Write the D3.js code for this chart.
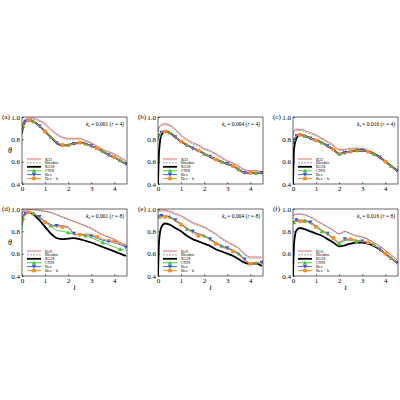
<!DOCTYPE html>
<html><head><meta charset="utf-8">
<script src="https://cdn.jsdelivr.net/npm/d3@7"></script>
<style>body{margin:0;background:#fff}text{font-family:"Liberation Serif",serif}</style>
</head><body><svg id="c" width="400" height="400"></svg>
<script>
var T = [0,0.05,0.15,0.3,0.5,0.75,1,1.25,1.5,1.75,2,2.25,2.5,2.75,3,3.25,3.5,3.75,4,4.25,4.5];
var xTicks = [0,1,2,3,4];
var yTicks = [0.4,0.6,0.8,1.0];

// panel (a) ks=0.001 r=4
var aLow  = [0.90,0.95,0.98,0.99,0.99,0.97,0.94,0.89,0.85,0.82,0.81,0.81,0.81,0.79,0.77,0.74,0.71,0.69,0.67,0.64,0.61];
var aBic  = [0.89,0.94,0.97,0.98,0.98,0.96,0.93,0.88,0.84,0.81,0.80,0.80,0.80,0.78,0.76,0.73,0.70,0.68,0.66,0.63,0.60];
var aR128 = [0.85,0.92,0.96,0.97,0.96,0.92,0.87,0.82,0.77,0.745,0.75,0.76,0.77,0.76,0.74,0.72,0.69,0.66,0.64,0.61,0.58];
var aCNN  = [0.86,0.92,0.96,0.97,0.96,0.92,0.87,0.82,0.775,0.75,0.75,0.76,0.77,0.76,0.745,0.72,0.695,0.665,0.64,0.61,0.585];
var aRes  = [0.85,0.92,0.96,0.97,0.96,0.92,0.87,0.82,0.77,0.745,0.75,0.76,0.77,0.76,0.74,0.72,0.69,0.66,0.64,0.61,0.58];
var aResH = [0.88,0.93,0.96,0.97,0.96,0.92,0.87,0.82,0.775,0.75,0.75,0.76,0.77,0.755,0.74,0.72,0.69,0.66,0.64,0.61,0.58];
// panel (b) ks=0.004 r=4
var bLow  = [0.88,0.91,0.93,0.94,0.93,0.89,0.84,0.80,0.77,0.75,0.72,0.70,0.67,0.64,0.61,0.59,0.56,0.53,0.52,0.52,0.51];
var bBic  = [0.87,0.90,0.92,0.93,0.92,0.88,0.83,0.79,0.76,0.74,0.71,0.69,0.66,0.63,0.60,0.58,0.55,0.52,0.51,0.51,0.50];
var bR128 = [0.40,0.70,0.84,0.87,0.86,0.82,0.78,0.75,0.72,0.70,0.67,0.645,0.62,0.60,0.58,0.56,0.53,0.50,0.50,0.50,0.50];
var bCNN  = [0.82,0.84,0.86,0.87,0.86,0.82,0.78,0.75,0.72,0.70,0.67,0.645,0.62,0.60,0.58,0.56,0.53,0.50,0.50,0.50,0.50];
var bRes  = [0.80,0.84,0.86,0.87,0.86,0.82,0.78,0.75,0.72,0.70,0.67,0.645,0.62,0.60,0.58,0.56,0.53,0.50,0.50,0.50,0.50];
var bResH = [0.83,0.85,0.86,0.87,0.86,0.82,0.78,0.75,0.72,0.70,0.67,0.645,0.62,0.60,0.58,0.56,0.53,0.50,0.50,0.50,0.50];
// panel (c) ks=0.016 r=4
var cLow  = [0.85,0.88,0.89,0.89,0.88,0.86,0.84,0.81,0.78,0.75,0.71,0.71,0.72,0.72,0.72,0.70,0.68,0.65,0.61,0.57,0.53];
var cBic  = [0.84,0.87,0.88,0.88,0.87,0.85,0.83,0.80,0.77,0.74,0.70,0.70,0.71,0.71,0.71,0.69,0.67,0.64,0.60,0.56,0.52];
var cR128 = [0.40,0.72,0.81,0.84,0.83,0.81,0.79,0.77,0.74,0.71,0.67,0.68,0.69,0.70,0.70,0.69,0.67,0.64,0.60,0.56,0.52];
var cCNN  = [0.76,0.80,0.83,0.84,0.83,0.81,0.79,0.77,0.74,0.71,0.67,0.68,0.69,0.70,0.70,0.69,0.67,0.64,0.60,0.56,0.52];
var cRes  = [0.75,0.80,0.83,0.84,0.83,0.81,0.79,0.77,0.74,0.71,0.67,0.68,0.69,0.70,0.70,0.69,0.67,0.64,0.60,0.56,0.52];
var cResH = [0.77,0.81,0.83,0.84,0.83,0.81,0.79,0.77,0.74,0.71,0.67,0.68,0.69,0.70,0.70,0.69,0.67,0.64,0.60,0.56,0.52];
// panel (d) ks=0.001 r=8
var dLow  = [0.96,0.98,0.99,1.00,1.00,0.99,0.98,0.97,0.95,0.93,0.91,0.89,0.87,0.85,0.83,0.80,0.77,0.75,0.73,0.70,0.68];
var dBic  = [0.95,0.97,0.98,0.99,0.99,0.985,0.975,0.965,0.945,0.925,0.905,0.885,0.865,0.845,0.82,0.79,0.765,0.745,0.72,0.695,0.675];
var dR128 = [0.86,0.93,0.96,0.97,0.95,0.90,0.84,0.78,0.74,0.73,0.735,0.74,0.73,0.715,0.70,0.68,0.66,0.64,0.62,0.60,0.58];
var dCNN  = [0.82,0.92,0.96,0.97,0.96,0.92,0.88,0.85,0.81,0.80,0.79,0.775,0.77,0.76,0.745,0.72,0.70,0.68,0.66,0.64,0.63];
var dRes  = [0.87,0.94,0.96,0.97,0.96,0.93,0.89,0.86,0.85,0.85,0.84,0.78,0.77,0.77,0.76,0.74,0.72,0.71,0.70,0.68,0.66];
var dResH = [0.87,0.93,0.96,0.97,0.96,0.92,0.88,0.85,0.84,0.84,0.83,0.77,0.77,0.775,0.77,0.75,0.73,0.72,0.71,0.69,0.67];
// panel (e) ks=0.004 r=8
var eLow  = [0.98,0.99,0.99,0.99,0.98,0.96,0.94,0.91,0.88,0.86,0.84,0.81,0.78,0.74,0.71,0.68,0.65,0.60,0.57,0.57,0.57];
var eBic  = [0.97,0.98,0.98,0.98,0.97,0.95,0.93,0.90,0.87,0.85,0.83,0.80,0.77,0.73,0.70,0.67,0.64,0.59,0.56,0.56,0.56];
var eR128 = [0.40,0.72,0.84,0.87,0.86,0.83,0.80,0.76,0.73,0.71,0.69,0.67,0.64,0.62,0.60,0.58,0.55,0.52,0.51,0.51,0.49];
var eCNN  = [0.92,0.93,0.94,0.94,0.93,0.90,0.86,0.82,0.79,0.77,0.76,0.73,0.70,0.67,0.65,0.63,0.60,0.55,0.51,0.52,0.52];
var eRes  = [0.93,0.94,0.94,0.94,0.93,0.90,0.87,0.83,0.80,0.78,0.76,0.73,0.70,0.67,0.65,0.63,0.60,0.55,0.51,0.52,0.52];
var eResH = [0.92,0.93,0.93,0.93,0.92,0.89,0.86,0.82,0.79,0.76,0.76,0.72,0.69,0.66,0.64,0.62,0.59,0.54,0.51,0.52,0.52];
// panel (f) ks=0.016 r=8
var fLow  = [0.94,0.95,0.955,0.955,0.95,0.93,0.90,0.87,0.84,0.81,0.78,0.80,0.78,0.76,0.75,0.73,0.70,0.67,0.63,0.59,0.55];
var fBic  = [0.935,0.945,0.95,0.95,0.945,0.925,0.895,0.865,0.835,0.805,0.775,0.795,0.775,0.755,0.745,0.725,0.695,0.665,0.625,0.585,0.545];
var fR128 = [0.40,0.70,0.81,0.83,0.82,0.80,0.78,0.76,0.73,0.70,0.665,0.675,0.69,0.70,0.70,0.69,0.67,0.64,0.60,0.56,0.52];
var fCNN  = [0.87,0.88,0.89,0.89,0.89,0.87,0.84,0.80,0.77,0.73,0.69,0.72,0.72,0.71,0.71,0.70,0.68,0.64,0.60,0.56,0.52];
var fRes  = [0.88,0.89,0.90,0.90,0.90,0.88,0.85,0.81,0.78,0.74,0.70,0.73,0.73,0.72,0.71,0.70,0.68,0.64,0.60,0.56,0.52];
var fResH = [0.87,0.88,0.89,0.89,0.89,0.87,0.84,0.81,0.78,0.74,0.70,0.73,0.73,0.72,0.71,0.70,0.68,0.64,0.60,0.56,0.52];

var panels = [
  {tag:"(a)", ks:"0.001", r:4, low:"R32", s:[aLow,aBic,aR128,aCNN,aRes,aResH]},
  {tag:"(b)", ks:"0.004", r:4, low:"R32", s:[bLow,bBic,bR128,bCNN,bRes,bResH]},
  {tag:"(c)", ks:"0.016", r:4, low:"R32", s:[cLow,cBic,cR128,cCNN,cRes,cResH]},
  {tag:"(d)", ks:"0.001", r:8, low:"R16", s:[dLow,dBic,dR128,dCNN,dRes,dResH]},
  {tag:"(e)", ks:"0.004", r:8, low:"R16", s:[eLow,eBic,eR128,eCNN,eRes,eResH]},
  {tag:"(f)", ks:"0.016", r:8, low:"R16", s:[fLow,fBic,fR128,fCNN,fRes,fResH]}
];
var styles = [
  {c:"#e06060", w:0.9, dash:null, m:null},
  {c:"#888", w:0.8, dash:"2,1", m:null},
  {c:"#000", w:1.8, dash:null, m:null},
  {c:"#33cc33", w:0.9, dash:null, m:"tri", off:1},
  {c:"#3355ee", w:0.9, dash:null, m:"tridown", off:2},
  {c:"#ff8c1a", w:0.9, dash:null, m:"sq", off:0}
];

var svg = d3.select("#c");
var colX = [22, 158, 293], rowY = [117, 209], pw = 105, ph = 67;

function marker(g, type, x, y, col) {
  var s = 1.8;
  if (type == "sq") g.append("rect").attr("x", x-s).attr("y", y-s).attr("width", 2*s).attr("height", 2*s).attr("fill", col);
  else {
    var d = type == "tri" ? [[x,y-s-0.4],[x-s-0.3,y+s],[x+s+0.3,y+s]] : [[x,y+s+0.4],[x-s-0.3,y-s],[x+s+0.3,y-s]];
    g.append("path").attr("d", "M" + d.join("L") + "Z").attr("fill", col);
  }
}

panels.forEach(function (p, i) {
  var x0 = colX[i % 3], y0 = rowY[Math.floor(i / 3)];
  var x = d3.scaleLinear().domain([0, 4.55]).range([x0, x0 + pw]);
  var y = d3.scaleLinear().domain([0.4, 1.0]).range([y0 + ph, y0]);
  var g = svg.append("g");
  var clip = "cl" + i;
  g.append("clipPath").attr("id", clip).append("rect").attr("x", x0).attr("y", y0).attr("width", pw).attr("height", ph);
  var plot = g.append("g").attr("clip-path", "url(#" + clip + ")");
  var line = d3.line().x(function (d, j) { return x(T[j]); }).y(function (d) { return y(d); }).curve(d3.curveMonotoneX);
  p.s.forEach(function (vals, k) {
    var st = styles[k];
    plot.append("path").attr("d", line(vals)).attr("fill", "none").attr("stroke", st.c)
      .attr("stroke-width", st.w).attr("stroke-dasharray", st.dash);
    if (st.m) vals.forEach(function (v, j) {
      if (j > 0 && j % 3 == st.off) marker(plot, st.m, x(T[j]), y(v), st.c);
    });
  });
  // frame + ticks
  g.append("rect").attr("x", x0).attr("y", y0).attr("width", pw).attr("height", ph).attr("fill", "none").attr("stroke", "#000").attr("stroke-width", 0.6);
  g.append("g").attr("transform", "translate(0," + (y0 + ph) + ")")
    .call(d3.axisBottom(x).tickValues(xTicks).tickSize(-2).tickPadding(2).tickFormat(d3.format("d")))
    .call(function (a) { a.select(".domain").remove(); a.selectAll("text").attr("font-size", 7); a.selectAll("line").attr("stroke-width", 0.5); });
  g.append("g").attr("transform", "translate(" + x0 + ",0)")
    .call(d3.axisLeft(y).tickValues(yTicks).tickSize(-2).tickPadding(2).tickFormat(d3.format(".1f")))
    .call(function (a) { a.select(".domain").remove(); a.selectAll("text").attr("font-size", 7); a.selectAll("line").attr("stroke-width", 0.5); });
  g.append("text").attr("x", x0 - 20).attr("y", y0 + 2).attr("font-size", 7).text(p.tag);
  if (i % 3 == 0) g.append("text").attr("x", x0 - 14).attr("y", y0 + ph / 2 + 2).attr("font-size", 8).attr("font-style", "italic").text("θ");
  if (i >= 3) g.append("text").attr("x", x0 + pw / 2).attr("y", y0 + ph + 14).attr("text-anchor", "middle").attr("font-size", 8).attr("font-style", "italic").text("t");
  var ann = g.append("text").attr("x", x0 + pw - 3).attr("y", y0 + 9).attr("text-anchor", "end").attr("font-size", 5.5);
  ann.append("tspan").attr("font-style", "italic").text("k");
  ann.append("tspan").attr("font-size", 4).attr("dy", 1.2).text("s");
  ann.append("tspan").attr("dy", -1.2).text(" = " + p.ks + " (");
  ann.append("tspan").attr("font-style", "italic").text("r");
  ann.append("tspan").text(" = " + p.r + ")");
  // legend
  var names = [p.low, "Bicubic", "R128", "CNN", "Res", "Res + h"];
  names.forEach(function (n, k) {
    var st = styles[k], ly = y0 + 42 + k * 3.9, lx = x0 + 5;
    g.append("line").attr("x1", lx).attr("x2", lx + 14).attr("y1", ly).attr("y2", ly).attr("stroke", st.c)
      .attr("stroke-width", st.w).attr("stroke-dasharray", st.dash);
    if (st.m) marker(g, st.m, lx + 7, ly, st.c);
    g.append("text").attr("x", lx + 18).attr("y", ly + 1.5).attr("font-size", 4.3).text(n);
  });
});
</script></body></html>
